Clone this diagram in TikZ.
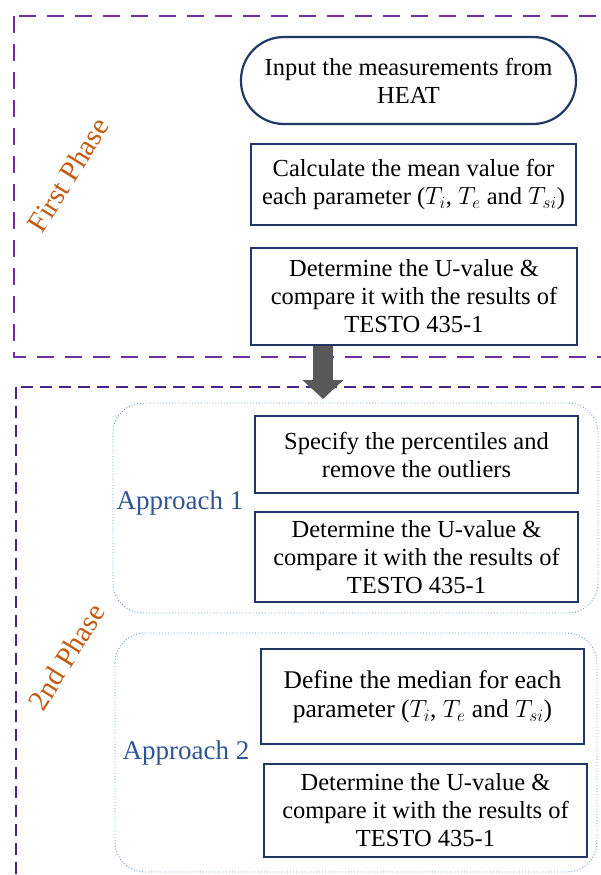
\documentclass[tikz,border=0pt]{standalone}
\usepackage{fontspec}
\setmainfont{Liberation Serif}
\usetikzlibrary{arrows.meta}
\definecolor{phaseA}{RGB}{112,48,160}
\definecolor{phaseB}{RGB}{75,35,135}
\definecolor{navy}{RGB}{31,56,100}
\definecolor{rust}{RGB}{197,90,17}
\definecolor{apblue}{RGB}{47,85,151}
\definecolor{dotblue}{RGB}{91,155,213}
\definecolor{arrowgray}{RGB}{89,89,89}
\begin{document}
\begin{tikzpicture}[x=1pt,y=-1pt,
  stepbox/.style={draw=navy, line width=2.2pt, align=center, inner sep=0pt,
    font=\fontsize{24.5}{28}\selectfont},
  phaselabel/.style={text=rust, font=\fontsize{29}{32}\selectfont, rotate=58},
  approachlabel/.style={text=apblue, font=\fontsize{27}{30}\selectfont, inner sep=0pt},
  container/.style={draw=dotblue, line width=0.9pt, dotted, rounded corners=30pt},
  phasebox/.style={line width=2.4pt, dash pattern=on 17pt off 11pt},
]
\useasboundingbox (0,0) rectangle (601,875);
\clip (0,0) rectangle (601,875);

% phase frames
\draw[phasebox, draw=phaseA] (14,16) rectangle (650,357);
\draw[phasebox, draw=phaseB, line width=2pt, dash pattern=on 12pt off 7pt] (16,387) rectangle (650,930);

% approach containers
\draw[container] (113,403) rectangle (598,613);
\draw[container] (115,633) rectangle (597,872);

% first phase
\node[stepbox, rounded corners=43pt, minimum width=335pt, minimum height=87pt] (s1) at (408.5,80.5)
  {Input the measurements from\\HEAT};
\node[stepbox, minimum width=325pt, minimum height=81pt] (s2) at (413.5,184.5)
  {Calculate the mean value for\\each parameter ($T_i$, $T_e$ and $T_{si}$)};
\node[stepbox, minimum width=326pt, minimum height=97pt] (s3) at (414,296.5)
  {Determine the U-value \&\\compare it with the results of\\TESTO 435-1};

% second phase, approach 1
\node[stepbox, minimum width=323pt, minimum height=77pt] (p1) at (416.5,454.5)
  {Specify the percentiles and\\remove the outliers};
\node[stepbox, minimum width=323pt, minimum height=90pt] (p2) at (416.5,557)
  {Determine the U-value \&\\compare it with the results of\\TESTO 435-1};

% second phase, approach 2
\node[stepbox, minimum width=323pt, minimum height=95pt, font=\fontsize{25.5}{29}\selectfont] (q1) at (422.5,696.5)
  {Define the median for each\\parameter ($T_i$, $T_e$ and $T_{si}$)};
\node[stepbox, minimum width=323pt, minimum height=93pt] (q2) at (425.5,810.5)
  {Determine the U-value \&\\compare it with the results of\\TESTO 435-1};

% labels
\node[phaselabel] (lab1) at (68,175) {First Phase};
\node[phaselabel] (lab2) at (66.5,657) {2nd Phase};
\node[approachlabel] (ap1) at (180,503) {Approach 1};
\node[approachlabel] (ap2) at (186,753) {Approach 2};

% block arrow between phases
\coordinate (tip) at (323,399);
\draw[arrowgray, line width=20pt, -{Triangle[width=40pt,length=19pt]}] (tip |- s3.south) -- (tip);
\end{tikzpicture}
\end{document}
